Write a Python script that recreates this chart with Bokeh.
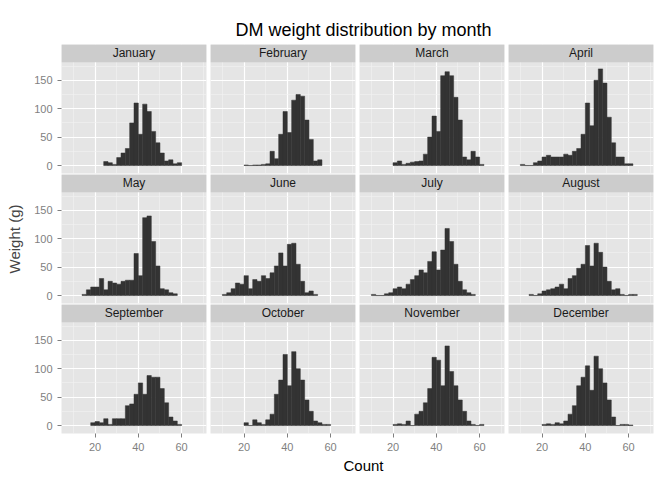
from bokeh.plotting import figure
from bokeh.layouts import column, row
from bokeh.models import Div, FixedTicker, Range1d
from bokeh.embed import file_html
from bokeh.resources import INLINE
from bokeh.core.properties import value

months = ["January", "February", "March", "April", "May", "June",
          "July", "August", "September", "October", "November", "December"]
bin_width = 2
starts = [24, 20, 20, 10, 14, 10, 10, 14, 18, 20, 20, 20]
jan = [7, 5, 2, 14, 22, 30, 75, 110, 55, 108, 95, 60, 40, 22, 8, 10, 3, 5]
feb = [1, 0, 1, 1, 2, 3, 25, 12, 55, 95, 58, 115, 125, 122, 80, 46, 8, 10]
mar = [5, 8, 2, 4, 6, 7, 8, 20, 50, 87, 60, 158, 165, 158, 120, 80, 15, 10, 25, 15, 2]
apr = [2, 0, 0, 5, 8, 15, 18, 15, 15, 15, 20, 18, 25, 30, 55, 110, 70, 150, 170, 145, 85, 40, 15, 15, 3, 3]
may = [2, 10, 15, 15, 30, 10, 25, 22, 20, 25, 27, 27, 74, 35, 137, 140, 95, 52, 12, 10, 5, 3]
jun = [2, 5, 12, 22, 20, 35, 12, 28, 25, 35, 30, 40, 52, 75, 52, 90, 92, 55, 25, 5, 8, 2]
jul = [2, 0, 0, 3, 5, 12, 15, 12, 20, 28, 35, 45, 40, 60, 77, 45, 80, 118, 95, 55, 25, 10, 5, 2]
aug = [2, 0, 3, 8, 10, 12, 15, 20, 12, 30, 35, 48, 55, 88, 52, 92, 76, 50, 25, 10, 12, 2, 0, 2, 2]
sep = [5, 7, 5, 12, 2, 12, 12, 12, 35, 38, 55, 75, 55, 88, 85, 85, 65, 40, 15, 8, 2]
oct_ = [5, 0, 10, 5, 2, 10, 20, 55, 80, 125, 70, 130, 100, 80, 45, 25, 8, 5, 2, 2]
nov = [2, 3, 2, 8, 0, 20, 25, 40, 65, 120, 115, 70, 140, 95, 70, 45, 25, 8, 2, 0, 2]
dec = [2, 3, 2, 5, 3, 8, 20, 35, 70, 85, 105, 62, 122, 100, 75, 45, 15, 0, 2, 2, 1]
counts = [jan, feb, mar, apr, may, jun, jul, aug, sep, oct_, nov, dec]
y_ticks = [0, 50, 100, 150]
x_ticks = [20, 40, 60]

FONT = "Liberation Sans"
Y0, Y1 = -14, 181.5
STRIP = 31.4
X0, X1 = 4.5, 71.5

rows = []
for r in range(3):
    figs = []
    for c in range(4):
        i = r * 4 + c
        left = 61 if c == 0 else 2
        right = 1 if c == 3 else 2
        bottom = 20 if r == 2 else 1
        p = figure(frame_width=145, frame_height=129, output_backend="svg",
                   toolbar_location=None, x_range=Range1d(X0, X1),
                   y_range=Range1d(Y0, Y1 + STRIP),
                   min_border_left=left, min_border_right=right,
                   min_border_top=0, min_border_bottom=bottom)
        p.background_fill_color = "#e5e5e5"
        p.outline_line_color = None
        for g in (p.xgrid[0], p.ygrid[0]):
            g.grid_line_color = "white"
            g.grid_line_width = 1.2
            g.minor_grid_line_color = "#f2f2f2"
            g.minor_grid_line_width = 0.6
        p.xaxis.ticker = FixedTicker(ticks=x_ticks, minor_ticks=[10, 30, 50, 70])
        p.yaxis.ticker = FixedTicker(ticks=y_ticks, minor_ticks=[25, 75, 125, 175])
        for ax in (p.xaxis[0], p.yaxis[0]):
            ax.axis_line_color = None
            ax.major_tick_line_color = "#7f7f7f"
            ax.major_tick_in = 0
            ax.major_tick_out = 4
            ax.minor_tick_line_color = None
            ax.major_label_text_color = "#7f7f7f"
            ax.major_label_text_font = FONT
            ax.major_label_text_font_size = "11px"
        p.xaxis.visible = (r == 2)
        p.yaxis.visible = (c == 0)
        if c == 0 and r == 1:
            p.yaxis.axis_label = "Weight (g)"
            p.yaxis.axis_label_text_font = FONT
            p.yaxis.axis_label_text_font_size = "15px"
            p.yaxis.axis_label_text_font_style = "normal"
            p.yaxis.axis_label_standoff = 8
        cs = counts[i]
        lefts = [starts[i] + k * bin_width for k in range(len(cs))]
        rights = [x + bin_width for x in lefts]
        p.quad(left=lefts, right=rights, top=cs, bottom=0,
               fill_color="#333333", line_color="#333333", line_width=0.5)
        p.quad(left=[X0], right=[X1], bottom=[Y1], top=[Y1 + STRIP],
               fill_color="#cccccc", line_color=None)
        p.text(x=[(X0 + X1) / 2], y=[Y1 + STRIP / 2], text=[months[i]],
               text_align="center", text_baseline="middle",
               text_font=value(FONT), text_font_size="12px", text_color="#1a1a1a")
        figs.append(p)
    rows.append(row(*figs))

title = Div(text="DM weight distribution by month", width=656, height=34,
            styles={"text-align": "center", "font-family": FONT, "font-size": "18px",
                    "padding-left": "61px", "padding-top": "16px", "box-sizing": "border-box",
                    "width": "656px", "line-height": "18px"})
xlabel = Div(text="Count", width=656, height=20,
             styles={"text-align": "center", "font-family": FONT, "font-size": "15px",
                     "padding-left": "61px", "box-sizing": "border-box", "width": "656px",
                     "line-height": "15px"})
layout = column(title, *rows, xlabel, spacing=0)
open("out.html", "w").write(file_html(layout, INLINE))
